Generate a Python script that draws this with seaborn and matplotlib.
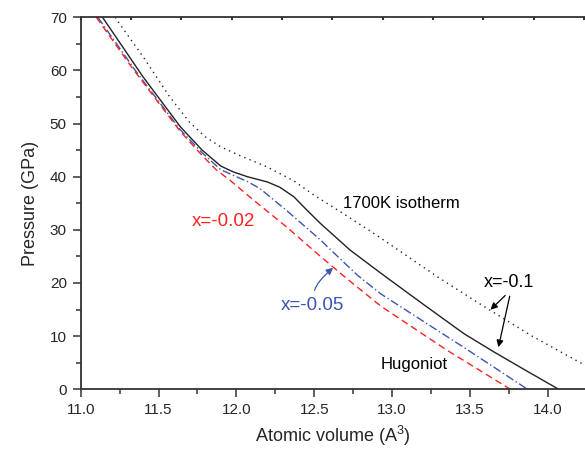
import matplotlib
matplotlib.use("Agg")
import matplotlib.pyplot as plt
import seaborn as sns
from matplotlib.ticker import MultipleLocator

sns.set_style("ticks")
plt.rcParams["font.family"] = ["Liberation Sans", "DejaVu Sans"]
plt.rcParams["mathtext.default"] = "regular"

# Curves (volume in A^3, pressure in GPa)
hug_v = [11.14, 11.40, 11.64, 11.78, 11.90, 11.98, 12.07, 12.20, 12.28, 12.37, 12.45, 12.54,
         12.73, 12.93, 13.20, 13.46, 13.65, 13.85, 14.07]
hug_p = [70.0, 58.8, 49.4, 45.0, 42.0, 40.9, 40.0, 39.0, 38.0, 36.2, 33.8, 31.2,
         26.2, 21.8, 16.0, 10.5, 7.1, 3.7, 0.0]

iso_v = [11.22, 11.40, 11.57, 11.70, 11.80, 11.90, 12.02, 12.20, 12.37, 12.50, 12.69, 12.90,
         13.05, 13.30, 13.60, 13.90, 14.24]
iso_p = [70.0, 62.6, 55.1, 50.2, 47.5, 45.6, 44.0, 41.8, 39.2, 36.5, 33.0, 29.0,
         26.0, 21.0, 15.4, 10.0, 4.5]

x05_v = [11.11, 11.36, 11.64, 11.78, 11.90, 12.00, 12.07, 12.15, 12.32, 12.54, 12.65, 12.78,
         12.93, 13.20, 13.46, 13.87]
x05_p = [70.0, 59.6, 48.8, 44.5, 41.3, 40.0, 39.1, 37.8, 33.7, 28.1, 25.0, 21.4,
         17.9, 12.8, 7.9, 0.0]

x02_v = [11.10, 11.33, 11.64, 11.78, 11.87, 11.96, 12.11, 12.32, 12.54, 12.71, 12.93, 13.15,
         13.35, 13.76]
x02_p = [70.0, 60.5, 48.5, 44.0, 41.3, 39.3, 35.6, 30.6, 25.0, 20.8, 15.6, 11.3,
         7.4, 0.0]

red = "#ff2020"
blue = "#3a55b0"
dark = "#222222"

fig = plt.figure(figsize=(5.85, 4.51), dpi=100)
ax = fig.add_axes([0.138, 0.137, 0.862, 0.8247])

sns.lineplot(x=iso_v, y=iso_p, ax=ax, color=dark, linestyle=(0, (1, 3)), linewidth=1.0)
sns.lineplot(x=hug_v, y=hug_p, ax=ax, color=dark, linestyle="-", linewidth=1.0)
sns.lineplot(x=x05_v, y=x05_p, ax=ax, color=blue, linestyle=(0, (6, 2, 1, 2)), linewidth=1.0)
sns.lineplot(x=x02_v, y=x02_p, ax=ax, color=red, linestyle=(0, (5, 3)), linewidth=1.0)

ax.set_xlim(11.0, 14.24)
ax.set_ylim(0, 70)
ax.xaxis.set_major_locator(MultipleLocator(0.5))
ax.xaxis.set_minor_locator(MultipleLocator(0.25))
ax.yaxis.set_major_locator(MultipleLocator(10))
ax.yaxis.set_minor_locator(MultipleLocator(5))
ax.xaxis.set_major_formatter(plt.FormatStrFormatter("%.1f"))
ax.tick_params(which="major", direction="out", length=6, width=1.1, color="#333333",
               labelsize=11, pad=4)
ax.tick_params(which="minor", direction="out", length=3.5, width=1.1, color="#333333")
for side in ["left", "bottom", "top"]:
    ax.spines[side].set_linewidth(1.3)
    ax.spines[side].set_color("#333333")
ax.spines["right"].set_visible(False)

# small ticks along the top axis
top = ax.twiny()
top.set_xlim(0, 10.02)
top.xaxis.set_major_locator(MultipleLocator(1))
top.tick_params(axis="x", direction="in", length=2, width=1.5, color="#333333", labeltop=False)
for s in top.spines.values():
    s.set_visible(False)

ax.set_xlabel("Atomic volume (A$^3$)", fontsize=13, labelpad=5)
ax.set_ylabel("Pressure (GPa)", fontsize=13, labelpad=8)

ax.text(13.06, 35.0, "1700K isotherm", fontsize=12, ha="center", va="center", color="black")
ax.text(13.14, 4.6, "Hugoniot", fontsize=12, ha="center", va="center", color="black")
ax.text(11.92, 31.5, "x=-0.02", fontsize=13.5, ha="center", va="center", color=red)
ax.text(12.49, 15.7, "x=-0.05", fontsize=13.5, ha="center", va="center", color=blue)
ax.text(13.75, 20.0, "x=-0.1", fontsize=13, ha="center", va="center", color="black")

arrow_k = dict(arrowstyle="-|>", color="black", lw=0.9, mutation_scale=10)
ax.annotate("", xy=(13.62, 14.6), xytext=(13.74, 18.0), arrowprops=arrow_k)
ax.annotate("", xy=(13.68, 7.4), xytext=(13.76, 18.0), arrowprops=arrow_k)
ax.annotate("", xy=(12.635, 23.2), xytext=(12.50, 18.1),
            arrowprops=dict(arrowstyle="-|>", color=blue, lw=0.9, mutation_scale=10,
                            connectionstyle="angle3,angleA=90,angleB=40"))

fig.savefig("out.png", dpi=100)
